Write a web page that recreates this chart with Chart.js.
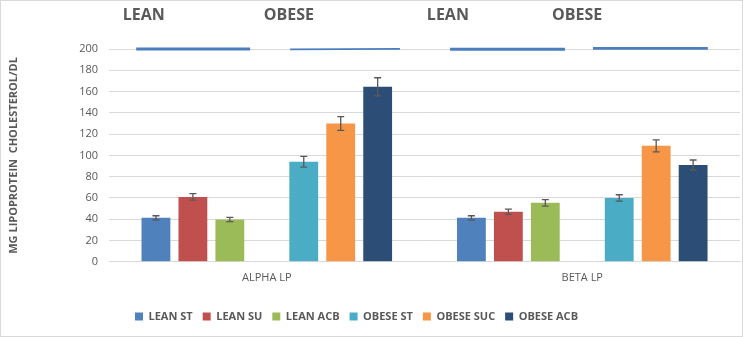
<!DOCTYPE html>
<html>
<head>
<meta charset="utf-8">
<script src="https://cdn.jsdelivr.net/npm/chart.js@4"></script>
<style>
  body { margin: 0; background: #fff; }
  #wrap { width: 743px; height: 337px; box-sizing: border-box; border: 1px solid #d9d9d9; }
</style>
</head>
<body>
<div id="wrap"><canvas id="myChart" width="741" height="335"></canvas></div>
<script>
const categories = ["ALPHA LP", "BETA LP"];

const seriesNames = ["LEAN ST", "LEAN SU", "LEAN ACB", "OBESE ST", "OBESE SUC", "OBESE ACB"];
const leanSt = [41.3, 41.3];
const leanSu = [61, 47];
const leanAcb = [39.7, 55.4];
const obeseSt = [94, 60];
const obeseSuc = [130, 109];
const obeseAcb = [164.5, 91];

const leanStErr = [2, 2];
const leanSuErr = [3, 2.5];
const leanAcbErr = [2, 3];
const obeseStErr = [5, 3];
const obeseSucErr = [6.5, 5.6];
const obeseAcbErr = [8.5, 4.7];

const yTicks = [0, 20, 40, 60, 80, 100, 120, 140, 160, 180, 200];

// header labels and bracket lines above the groups (in category units)
const headerLabels = ["LEAN", "OBESE", "LEAN", "OBESE"];
const headerCenters = [-0.39, 0.07, 0.574, 0.984];
const bracketStart = [-0.414, 0.074, 0.581, 1.034];
const bracketEnd = [-0.053, 0.422, 0.945, 1.398];
const bracketYStart = [200, 199.6, 199.8, 200.5];
const bracketYEnd = [200, 200.2, 199.8, 200.5];
const bracketWidth = [3, 1.8, 3, 2.7];

const colors = ["#4f81bd", "#c0504d", "#9bbb59", "#4bacc6", "#f79646", "#2c4d75"];
const textColor = "#595959";

const values = [leanSt, leanSu, leanAcb, obeseSt, obeseSuc, obeseAcb];
const errors = [leanStErr, leanSuErr, leanAcbErr, obeseStErr, obeseSucErr, obeseAcbErr];

const datasets = values.map((v, i) => ({
  label: seriesNames[i],
  data: v,
  errors: errors[i],
  backgroundColor: colors[i],
  barPercentage: 0.78,
  categoryPercentage: 0.82,
}));
// empty slot between the lean and obese bars
datasets.splice(3, 0, {
  label: "",
  data: [null, null],
  backgroundColor: "rgba(0,0,0,0)",
  barPercentage: 0.78,
  categoryPercentage: 0.82,
});

const errorBars = {
  id: "errorBars",
  afterDatasetsDraw(chart) {
    const ctx = chart.ctx;
    const y = chart.scales.y;
    ctx.save();
    ctx.strokeStyle = "#595959";
    ctx.lineWidth = 1.3;
    chart.data.datasets.forEach((ds, di) => {
      if (!ds.errors) return;
      const meta = chart.getDatasetMeta(di);
      meta.data.forEach((bar, j) => {
        const v = ds.data[j];
        const e = ds.errors[j];
        const top = y.getPixelForValue(v + e);
        const bot = y.getPixelForValue(v - e);
        const x = bar.x;
        ctx.beginPath();
        ctx.moveTo(x, top); ctx.lineTo(x, bot);
        ctx.moveTo(x - 3.5, top); ctx.lineTo(x + 3.5, top);
        ctx.moveTo(x - 3.5, bot); ctx.lineTo(x + 3.5, bot);
        ctx.stroke();
      });
    });
    ctx.restore();
  },
};

const headers = {
  id: "headers",
  afterLayout(chart) {
    // legend sits a bit left of centre in the original
    chart.legend.left -= 17;
    chart.legend.right -= 17;
  },
  afterDatasetsDraw(chart) {
    const ctx = chart.ctx;
    const x = chart.scales.x;
    const y = chart.scales.y;
    ctx.save();
    ctx.strokeStyle = "#4a7ebf";
    bracketStart.forEach((s, i) => {
      ctx.lineWidth = bracketWidth[i];
      ctx.beginPath();
      ctx.moveTo(x.getPixelForValue(s), y.getPixelForValue(bracketYStart[i]));
      ctx.lineTo(x.getPixelForValue(bracketEnd[i]), y.getPixelForValue(bracketYEnd[i]));
      ctx.stroke();
    });
    ctx.fillStyle = textColor;
    ctx.font = "bold 16px 'Open Sans'";
    ctx.textAlign = "center";
    ctx.textBaseline = "middle";
    headerLabels.forEach((t, i) => {
      ctx.fillText(t, x.getPixelForValue(headerCenters[i]), 14);
    });
    ctx.restore();
  },
};

const ctx = document.getElementById("myChart").getContext("2d");
const myChart = new Chart(ctx, {
  type: "bar",
  data: {
    labels: categories,
    datasets,
  },
  options: {
    responsive: false,
    animation: false,
    layout: { padding: { top: 48, right: 2, left: 6, bottom: 4 } },
    scales: {
      x: {
        grid: { display: false },
        border: { display: true, color: "#d9d9d9" },
        ticks: { color: textColor, font: { family: "Open Sans", size: 11 }, padding: 1 },
        afterFit(scale) {
          scale.height += 16;
        },
      },
      y: {
        min: 0,
        max: 200,
        afterBuildTicks(scale) {
          scale.ticks = yTicks.map((v) => ({ value: v }));
        },
        grid: { color: "#d9d9d9", drawTicks: false },
        border: { display: false },
        ticks: { color: textColor, font: { family: "Open Sans", size: 11 }, padding: 11 },
        title: {
          display: true,
          text: "MG LIPOPROTEIN  CHOLESTEROL/DL",
          color: textColor,
          font: { family: "Open Sans", size: 11, weight: "bold" },
          padding: { top: 0, bottom: 48 },
        },
      },
    },
    plugins: {
      legend: {
        position: "bottom",
        labels: {
          color: textColor,
          font: { family: "Open Sans", size: 11, weight: "bold" },
          boxWidth: 8,
          boxHeight: 8,
          padding: 10,
          filter: (item) => item.text !== "",
        },
      },
      tooltip: { enabled: false },
    },
  },
  plugins: [errorBars, headers],
});
</script>
</body>
</html>
